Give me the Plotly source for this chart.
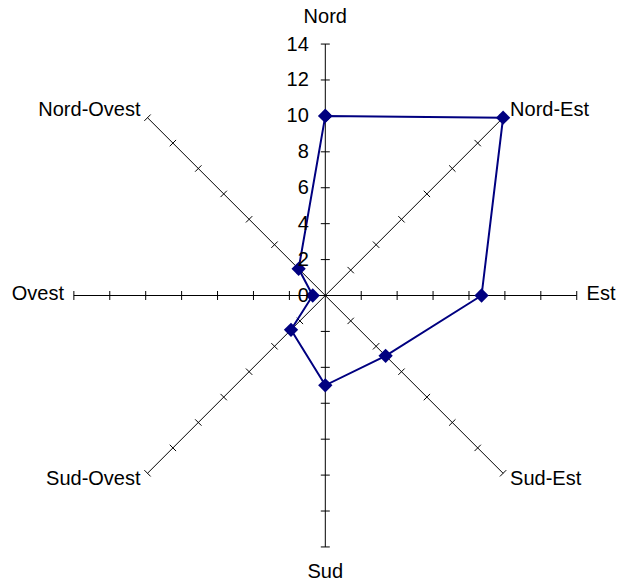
import numpy as np
import plotly.graph_objects as go

# Wind directions, clockwise from north, and the value on each spoke
directions = ["Nord", "Nord-Est", "Est", "Sud-Est", "Sud", "Sud-Ovest", "Ovest", "Nord-Ovest"]
values = [10, 14, 8.7, 4.75, 5, 2.7, 0.7, 2.1]
radial_ticks = [0, 2, 4, 6, 8, 10, 12, 14]

angles = [i * 45 for i in range(len(directions))]
r_max = 14        # end of the spokes
r_view = 15.5     # polar range, leaves room for the direction names
tick_half = 0.25  # half length of the cross ticks, in radial units

fig = go.Figure()

# Spokes from the centre to the outer value
spoke_r, spoke_t = [], []
for a in angles:
    spoke_r += [0, r_max, None]
    spoke_t += [a, a, None]
fig.add_trace(go.Scatterpolar(
    r=spoke_r, theta=spoke_t, mode="lines",
    line=dict(color="black", width=1),
    hoverinfo="skip", showlegend=False,
))

# Small cross ticks on every spoke at each radial step
tick_r, tick_t = [], []
for a in angles:
    for rv in radial_ticks[1:]:
        rr = float(np.hypot(rv, tick_half))
        da = float(np.degrees(np.arctan2(tick_half, rv)))
        tick_r += [rr, rr, None]
        tick_t += [a - da, a + da, None]
fig.add_trace(go.Scatterpolar(
    r=tick_r, theta=tick_t, mode="lines",
    line=dict(color="black", width=1),
    hoverinfo="skip", showlegend=False,
))

# Data polygon
fig.add_trace(go.Scatterpolar(
    r=values + values[:1], theta=angles + angles[:1],
    mode="lines+markers",
    line=dict(color="#000080", width=2),
    marker=dict(symbol="diamond", size=11, color="#000080"),
    showlegend=False,
))

font = dict(family="Arial, Liberation Sans, sans-serif", size=20, color="black")

# Direction names just beyond the end of each spoke
label_pos = ["top center", "middle right", "middle right", "middle right",
             "bottom center", "middle left", "middle left", "middle left"]
label_r = [r_max + (0.9 if p.endswith("center") else 0.55) for p in label_pos]
fig.add_trace(go.Scatterpolar(
    r=label_r, theta=angles, mode="text", text=directions,
    textposition=label_pos, textfont=font,
    hoverinfo="skip", showlegend=False,
))

cx, cy, px_per_unit = 325.3, 289.5, 17.96  # centre (from bottom-left) and scale in px
half = r_view * px_per_unit

fig.update_layout(
    width=619, height=585,
    margin=dict(l=0, r=0, t=0, b=0),
    paper_bgcolor="white",
    plot_bgcolor="white",
    font=font,
    polar=dict(
        domain=dict(x=[(cx - half) / 619, (cx + half) / 619],
                    y=[(cy - half) / 585, (cy + half) / 585]),
        bgcolor="white",
        radialaxis=dict(
            range=[0, r_view], angle=90, side="counterclockwise", tickangle=90,
            tickvals=radial_ticks, ticktext=[str(v) for v in radial_ticks],
            ticks="outside", ticklen=9, tickcolor="rgba(0,0,0,0)",
            showgrid=False, showline=False, tickfont=font,
        ),
        angularaxis=dict(
            type="linear", rotation=90, direction="clockwise",
            tickvals=angles, showticklabels=False, ticks="",
            showline=False, showgrid=False,
        ),
    ),
)

fig.write_html("out.html")
